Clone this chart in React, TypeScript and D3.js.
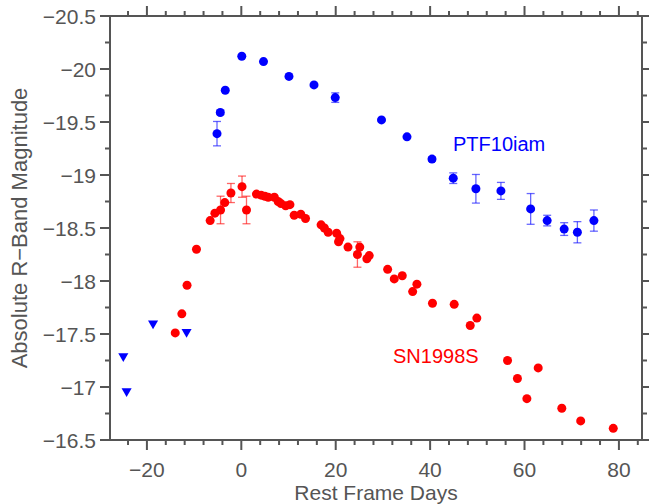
import React from "react";
import * as d3 from "d3";

const ptfDays = [-5.15, -4.45, -3.4, 0.1, 4.7, 10.1, 15.4, 19.9, 29.7, 35.1, 40.4, 44.9, 49.7, 55.0, 61.3, 64.8, 68.4, 71.2, 74.7];
const ptfMag = [-19.39, -19.59, -19.8, -20.12, -20.07, -19.93, -19.85, -19.73, -19.52, -19.36, -19.15, -18.97, -18.87, -18.85, -18.68, -18.57, -18.49, -18.46, -18.57];
const ptfErr = [0.115, 0.02, 0, 0, 0, 0, 0, 0.045, 0, 0, 0.02, 0.05, 0.135, 0.08, 0.145, 0.05, 0.06, 0.1, 0.1];

const limitDays = [-25.0, -24.3, -18.7, -11.6];
const limitMag = [-17.29, -16.96, -17.6, -17.52];

const snDays = [-14.0, -12.6, -11.5, -9.5, -6.6, -5.6, -4.4, -3.5, -2.2, 0.15, 1.1, 3.2, 4.2, 5.0, 5.7, 7.0, 7.8, 8.4, 9.4, 10.3, 11.2, 12.6, 13.6, 16.9, 17.6, 18.4, 20.2, 20.6, 20.9, 22.6, 24.6, 25.1, 26.6, 27.1, 31.0, 32.4, 34.1, 36.3, 37.2, 40.5, 45.1, 48.5, 49.9, 56.4, 58.5, 60.5, 62.9, 67.9, 71.9, 78.8];
const snMag = [-17.51, -17.69, -17.96, -18.3, -18.57, -18.64, -18.67, -18.74, -18.83, -18.89, -18.67, -18.82, -18.81, -18.8, -18.79, -18.79, -18.75, -18.73, -18.71, -18.72, -18.62, -18.63, -18.59, -18.53, -18.5, -18.46, -18.45, -18.37, -18.4, -18.32, -18.25, -18.32, -18.21, -18.24, -18.11, -18.02, -18.05, -17.9, -17.97, -17.79, -17.78, -17.58, -17.65, -17.25, -17.08, -16.89, -17.18, -16.8, -16.68, -16.61];
const snErr = [0, 0, 0, 0, 0, 0, 0.13, 0, 0.09, 0.1, 0.13, 0, 0, 0, 0, 0, 0, 0, 0, 0, 0, 0, 0, 0, 0, 0, 0, 0, 0, 0, 0.12, 0, 0, 0, 0, 0, 0, 0, 0, 0, 0, 0, 0, 0, 0, 0, 0, 0, 0, 0];

const xTickValues = [-20, 0, 20, 40, 60, 80];
const yTickValues = [-20.5, -20, -19.5, -19, -18.5, -18, -17.5, -17, -16.5];

const seriesLabels = ["PTF10iam", "SN1998S"];
const xTitle = "Rest Frame Days";
const yTitle = "Absolute R\u2212Band Magnitude";

const W = 649;
const H = 504;
const L = 110, R = 642, T = 16, B = 440;
const AX = "#555555";
const FONT = "'Liberation Sans', Arial, Helvetica, sans-serif";

const fmt = (v: number) => (v < 0 ? "\u2212" + String(Math.abs(v)) : String(v));

export default function App() {
  const x = d3.scaleLinear().domain([-27.82, 84.89]).range([L, R]);
  const y = d3.scaleLinear().domain([-20.5, -16.5]).range([T, B]);

  const xMinor = d3.range(-24, 85, 4);
  const yMinor = d3.range(-20.5, -16.49, 0.25);

  const tri = d3.symbol(d3.symbolTriangle, 44)() as string;

  const errBar = (dx: number, m: number, e: number, color: string, key: string) => {
    if (!e) return null;
    const cx = x(dx);
    const y1 = y(m - e);
    const y2 = y(m + e);
    return (
      <g key={key} stroke={color} strokeWidth={1.3} strokeOpacity={0.6}>
        <line x1={cx} x2={cx} y1={y1} y2={y2} />
        <line x1={cx - 4} x2={cx + 4} y1={y1} y2={y1} />
        <line x1={cx - 4} x2={cx + 4} y1={y2} y2={y2} />
      </g>
    );
  };

  return (
    <svg width={W} height={H} style={{ position: "absolute", left: 0, top: 0 }} fontFamily={FONT}>
      <rect x={0} y={0} width={W} height={H} fill="#fff" />
      {/* ticks */}
      <g stroke={AX} strokeWidth={2}>
        {xMinor.map((v) => {
          const major = xTickValues.includes(v);
          const len = major ? 10 : 5;
          return (
            <g key={"xt" + v}>
              <line x1={x(v)} x2={x(v)} y1={B} y2={B + len} />
              <line x1={x(v)} x2={x(v)} y1={T} y2={T - len} />
            </g>
          );
        })}
        {yMinor.map((v, i) => {
          const major = i % 2 === 0;
          const len = major ? 10 : 5;
          return (
            <g key={"yt" + i}>
              <line x1={L} x2={L - len} y1={y(v)} y2={y(v)} />
              <line x1={R} x2={R + len} y1={y(v)} y2={y(v)} />
            </g>
          );
        })}
        <rect x={L} y={T} width={R - L} height={B - T} fill="none" />
      </g>
      {/* tick labels */}
      <g fill={AX} fontSize={21}>
        {xTickValues.map((v) => (
          <text key={"xl" + v} x={x(v)} y={476.5} textAnchor="middle">
            {fmt(v)}
          </text>
        ))}
        {yTickValues.map((v) => (
          <text key={"yl" + v} x={96} y={y(v) + 7.5} textAnchor="end">
            {fmt(v)}
          </text>
        ))}
      </g>
      <text x={376} y={500} textAnchor="middle" fontSize={21} fill={AX}>
        {xTitle}
      </text>
      <text
        transform={`translate(27, ${(T + B) / 2}) rotate(-90)`}
        textAnchor="middle"
        fontSize={22}
        fill={AX}
      >
        {yTitle}
      </text>
      {/* error bars */}
      {ptfDays.map((d, i) => errBar(d, ptfMag[i], ptfErr[i], "#0000ff", "pe" + i))}
      {snDays.map((d, i) => errBar(d, snMag[i], snErr[i], "#ff0000", "se" + i))}
      {/* points */}
      {snDays.map((d, i) => (
        <circle key={"s" + i} cx={x(d)} cy={y(snMag[i])} r={4.5} fill="#ff0000" />
      ))}
      {ptfDays.map((d, i) => (
        <circle key={"p" + i} cx={x(d)} cy={y(ptfMag[i])} r={4.5} fill="#0000ff" />
      ))}
      {limitDays.map((d, i) => (
        <path key={"l" + i} d={tri} transform={`translate(${x(d)},${y(limitMag[i])}) rotate(180)`} fill="#0000ff" />
      ))}
      <text x={453} y={151} fontSize={20} fill="#0000ff">
        {seriesLabels[0]}
      </text>
      <text x={393} y={363} fontSize={20} fill="#ff0000">
        {seriesLabels[1]}
      </text>
    </svg>
  );
}
